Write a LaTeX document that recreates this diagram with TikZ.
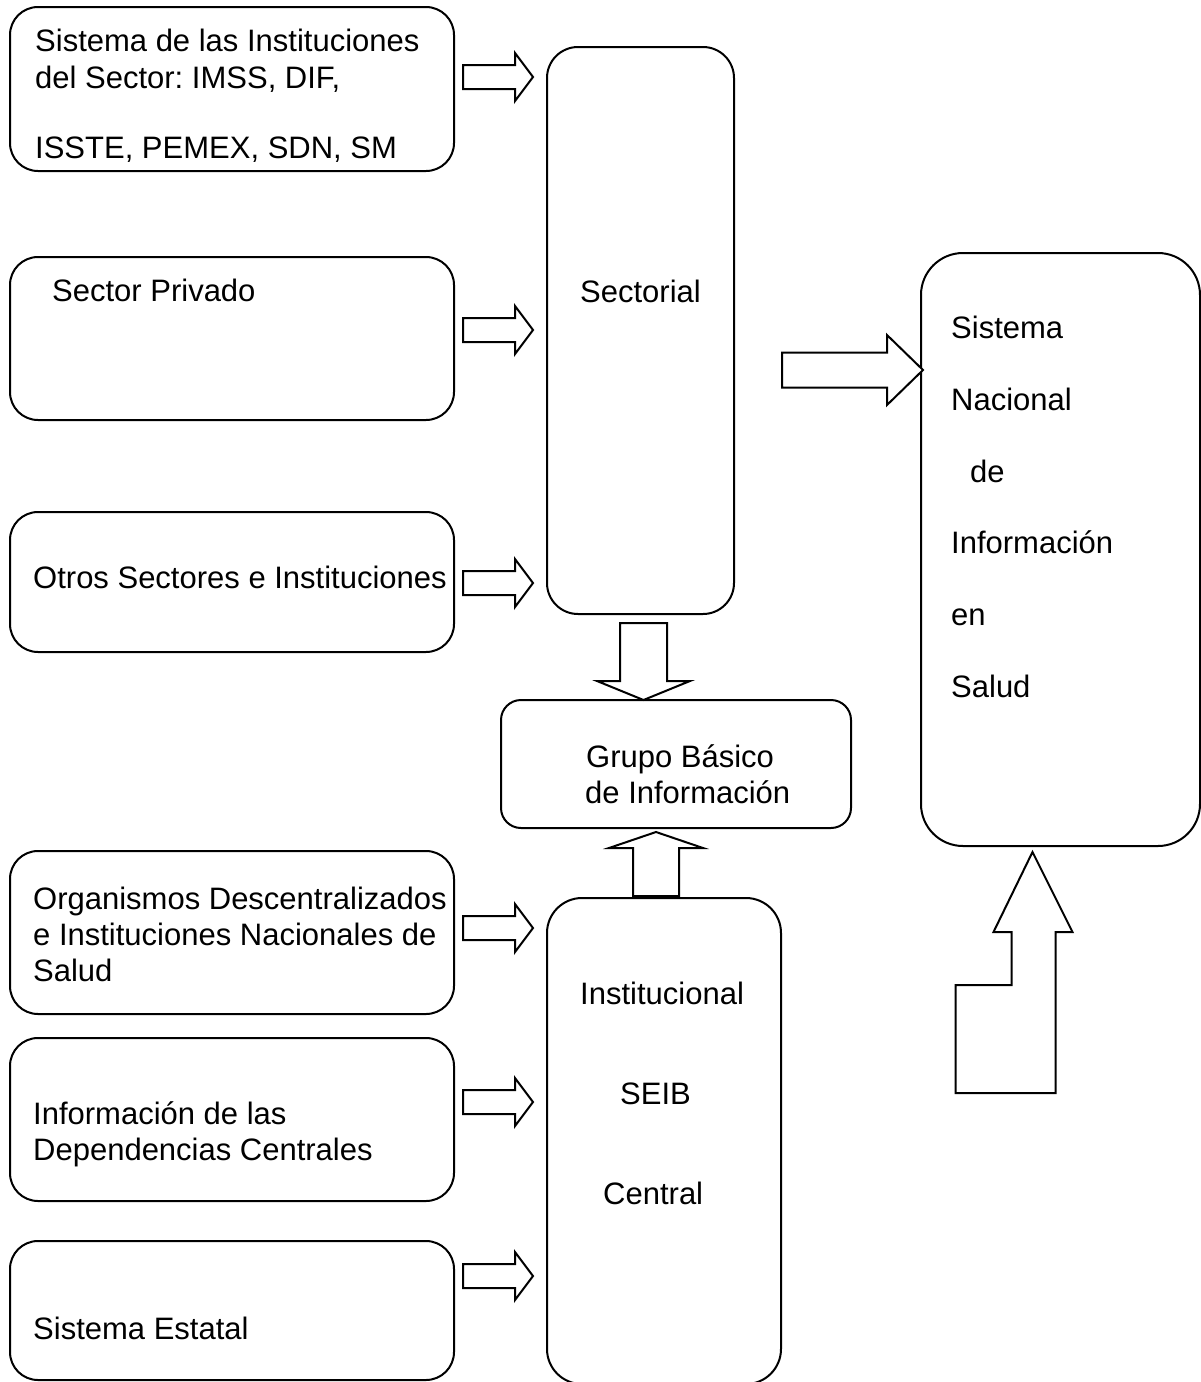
\documentclass[tikz,border=0pt]{standalone}
\usepackage{fontspec}
\setmainfont{Liberation Sans}
\frenchspacing

\tikzset{
  box/.style={draw, line width=2pt, rounded corners=28pt, inner sep=0pt, minimum width=444pt},
  txt/.style={anchor=base west, inner sep=0pt, font=\fontsize{31pt}{36pt}\selectfont},
  blk/.style={draw, line width=2pt, fill=white, line join=miter},
  rarr/.pic={\path[blk] (0,-12) -- (52,-12) -- (52,-24) -- (70,0) -- (52,24) -- (52,12) -- (0,12) -- cycle;},
  bigarr/.pic={\path[blk] (0,-17.5) -- (105,-17.5) -- (105,-35) -- (141,0) -- (105,35) -- (105,17.5) -- (0,17.5) -- cycle;},
  darr/.pic={\path[blk] (-23.5,0) -- (23.5,0) -- (23.5,58) -- (46.5,58) -- (0,77) -- (-46.5,58) -- (-23.5,58) -- cycle;},
  uarr/.pic={\path[blk] (-23,0) -- (23,0) -- (23,-48) -- (47,-48) -- (0,-64) -- (-47,-48) -- (-23,-48) -- cycle;}
}

\begin{document}
\begin{tikzpicture}[x=1pt, y=-1pt]
	\useasboundingbox (0,0) rectangle (1201,1382);
	% Sources (left column)
	\node[box, minimum height=164pt] (sis) at (232,89) {};
	\node[box, minimum height=163pt] (priv) at (232,338.5) {};
	\node[box, minimum height=140pt] (otros) at (232,582) {};
	\node[box, minimum height=163pt] (org) at (232,932.5) {};
	\node[box, minimum height=163pt] (dep) at (232,1119.5) {};
	\node[box, minimum height=139pt] (est) at (232,1310.5) {};
	\node[txt] (sisA) at (35,51) {Sistema de las Instituciones};
	\node[txt] (sisB) at (35,88) {del Sector: IMSS, DIF,};
	\node[txt] (sisC) at (35,158) {ISSTE, PEMEX, SDN, SM};
	\node[txt] (privA) at (52,301) {Sector Privado};
	\node[txt] (otrosA) at (33,588) {Otros Sectores e Instituciones};
	\node[txt] (orgA) at (33,909) {Organismos Descentralizados};
	\node[txt] (orgB) at (33,945) {e Instituciones Nacionales de};
	\node[txt] (orgC) at (33,981) {Salud};
	\node[txt] (depA) at (33,1124) {Información de las};
	\node[txt] (depB) at (33,1160) {Dependencias Centrales};
	\node[txt] (estA) at (33,1339) {Sistema Estatal};
	% Middle column
	\node[box, minimum width=187pt, minimum height=567pt, rounded corners=31pt] (sect) at (640.5,330.5) {};
	\node[box, minimum width=350pt, minimum height=128pt, rounded corners=20pt] (grupo) at (676,764) {};
	\node[box, minimum width=234pt, minimum height=486pt, rounded corners=35pt] (instit) at (664,1141) {};
	\node[txt] (sectA) at (580,302) {Sectorial};
	\node[txt] (grupoA) at (586,767) {Grupo Básico};
	\node[txt] (grupoB) at (585,803) {de Información};
	\node[txt] (institA) at (580,1004) {Institucional};
	\node[txt] (institB) at (620,1104) {SEIB};
	\node[txt] (institC) at (603,1204) {Central};
	% National system
	\node[box, minimum width=279pt, minimum height=593pt, rounded corners=42pt] (sns) at (1060.5,549.5) {};
	\node[txt] (snsA) at (951,338) {Sistema};
	\node[txt] (snsB) at (951,410) {Nacional};
	\node[txt] (snsC) at (970,482) {de};
	\node[txt] (snsD) at (951,553) {Información};
	\node[txt] (snsE) at (951,625) {en};
	\node[txt] (snsF) at (951,697) {Salud};
	% Arrows into Sectorial / Institucional
	\path (sis.east) ++(8,-12) pic {rarr};
	\path (priv.east) ++(8,-8.5) pic {rarr};
	\path (otros.east) ++(8,1) pic {rarr};
	\path (org.east) ++(8,-4.5) pic {rarr};
	\path (dep.east) ++(8,-17.5) pic {rarr};
	\path (est.east) ++(8,-34.5) pic {rarr};
	% Arrows to Grupo Basico and national system
	\path (sect.south) ++(3,8) pic {darr};
	\path (instit.north) ++(-8,-1) pic {uarr};
	\path (sect.east) ++(47,39.5) pic {bigarr};
	\draw[blk] (sns.south) ++(-28,5) -- ++(40,80) -- ++(-17,0) -- ++(0,161) -- ++(-100,0) -- ++(0,-108) -- ++(56,0) -- ++(0,-53) -- ++(-18,0) -- cycle;
\end{tikzpicture}
\end{document}
